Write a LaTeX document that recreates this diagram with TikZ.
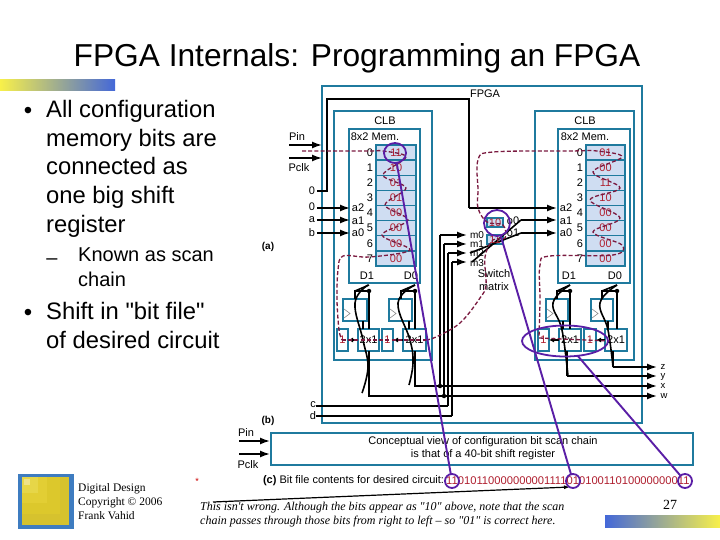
\documentclass[tikz,border=0pt]{standalone}
\usepackage{fontspec}
\usetikzlibrary{arrows.meta,shapes.geometric}
\setmainfont{Liberation Sans}
\newfontfamily\rawsans{Liberation Sans}
\newfontfamily\serifface{Liberation Serif}
\definecolor{teal1}{HTML}{1F7A9E}
\definecolor{cellfill}{HTML}{CFDDF2}
\definecolor{chainc}{HTML}{7A1A40}
\definecolor{purp}{HTML}{5A1EA6}
\definecolor{bitred}{HTML}{B02030}
\definecolor{barblue}{HTML}{4468D8}
\definecolor{baryel}{HTML}{F8F04A}
\definecolor{barmid}{HTML}{B4B48C}
\definecolor{logob}{HTML}{3E7CC0}
\definecolor{logoa}{HTML}{D6C22E}
\definecolor{logoc}{HTML}{DCC82C}
\definecolor{logod}{HTML}{E2CE34}
\definecolor{logoe}{HTML}{E6D648}
\definecolor{logof}{HTML}{EEE288}
\newcommand\fs[1]{\fontsize{#1}{#1}\selectfont}
\newcommand\bx[6][]{\node[boxs,#1,minimum width={#5-#3},minimum height={#6-#4}] (#2) at ({(#3+#5)/2},{(#4+#6)/2}) {};}
\tikzset{
 x=1pt,y=-1pt,
 boxs/.style={draw=teal1,line width=1.4pt,inner sep=0,outer sep=0,fill=white},
 cellb/.style={fill=cellfill},
 lab/.style={inner sep=0,outer sep=0,font=\fs{11}},
 reds/.style={lab,text=bitred},
 wire/.style={line width=1.6pt,black},
 arr/.style={wire,-{Latex[length=10pt,width=7pt]}},
 chain/.style={line width=1.3pt,chainc,dash pattern=on 4pt off 2.2pt},
 ring/.style={draw=purp,line width=1.8pt,inner sep=0,outer sep=0,ellipse},
 pline/.style={line width=1.9pt,purp},
 dot/.style={circle,fill=black,inner sep=0,minimum size=4.5pt},
}
\begin{document}
\begin{tikzpicture}
\useasboundingbox (0,0) rectangle (720,540);
\fill[white] (0,0) rectangle (720,540);
% decorative bars
\shade[left color=baryel,middle color=barmid,right color=barblue] (0,80) rectangle (115,91);
\shade[left color=barblue,middle color=barmid!40!baryel,right color=baryel] (605,515) rectangle (720,527);
% title and bullets
\node[inner sep=0,font=\fs{31.7}] (title) at (357,58) {FPGA Internals: Programming an FPGA};
\node[inner sep=0,font=\fs{24}] (b1) at (28,113) {•};
\node[inner sep=0,anchor=north west,align=left,font=\fontsize{23.8}{28.7}\selectfont] (t1) at (46,100) {All configuration\\memory bits are\\connected as\\one big shift\\register};
\node[inner sep=0,font=\fs{20}] (b2) at (52,262) {–};
\node[inner sep=0,anchor=north west,align=left,font=\fontsize{20}{24.5}\selectfont] (t2) at (78,248) {Known as scan\\chain};
\node[inner sep=0,font=\fs{24}] (b3) at (28,315) {•};
\node[inner sep=0,anchor=north west,align=left,font=\rawsans\fontsize{23.8}{29}\selectfont] (t3) at (46,302) {Shift in "bit file"\\of desired circuit};
% logo
\fill[logob] (18,474) rectangle (74,529);
\fill[logoa] (22,477) rectangle (69,525);
\fill[logoc] (22,477) rectangle (60,514);
\fill[logod] (22,477) rectangle (47,503);
\fill[logoe] (22,477) rectangle (38,493);
\fill[logof] (24,479) rectangle (30,485);
\node[inner sep=0,anchor=north west,align=left,font=\serifface\fontsize{11.5}{14}\selectfont] (cr) at (78,483) {Digital Design\\Copyright © 2006\\Frank Vahid};
% boxes
\bx{fpga}{322}{86}{642}{423}
\bx{clbL}{334}{111}{432}{360}
\bx{clbR}{535}{111}{634}{360}
\bx{memL}{349}{129}{420}{283}
\bx{memR}{558}{129}{630}{283}
\foreach \i/\a/\b in {0/11/01,1/10/00,2/01/11,3/01/10,4/00/00,5/00/00,6/00/00,7/00/00}{
  \pgfmathsetmacro\ya{145+\i*15.125}
  \pgfmathsetmacro\yb{145+(\i+1)*15.125}
  \bx[cellb]{cL\i}{376}{\ya}{416}{\yb}
  \bx[cellb]{cR\i}{586}{\ya}{625}{\yb}
  \node[lab] at ({370},{(\ya+\yb)/2}) {\i};
  \node[lab] at ({580},{(\ya+\yb)/2}) {\i};
  \node[reds] at (cL\i) {\a};
  \node[reds] at (cR\i) {\b};
}
\bx{ffA}{343}{299}{367}{321}
\bx{ffB}{389}{299}{412}{321}
\bx{ffC}{546}{299}{568}{321}
\bx{ffD}{591}{299}{613}{321}
\foreach \n in {ffA,ffB,ffC,ffD}{\draw[black!45,line width=.6pt] ([xshift=1pt,yshift=-10pt]\n.north west) -- ([xshift=7pt,yshift=-14.5pt]\n.north west) -- ([xshift=1pt,yshift=-19pt]\n.north west);}
\bx{inA}{337}{329}{348}{351}
\bx{muA}{358}{329}{379}{351}
\bx{inB}{382}{329}{393}{351}
\bx{muB}{403}{329}{426}{351}
\bx{inC}{538}{329}{549}{351}
\bx{muC}{559}{329}{581}{351}
\bx{inD}{584}{329}{596}{351}
\bx{muD}{605}{329}{627}{351}
\bx[cellb]{sw0}{487}{218}{503}{227}
\bx[cellb]{sw1}{487}{235}{503}{244}
\bx{conc}{271}{433}{693}{465}
% coordinates of free wire ends
\foreach \n/\x/\y in {pinA/289/145,pclkA/289/158,z0/317/191,z1/327/191,z2/327/99,z3/469/99,z4/469/208,
 e0/317/208,ea/317/220,eb/317/233,a2L/350/208,a1L/350/220,a0L/350/233,
 a2R/557/208,a1R/557/220,a0R/557/233,o0k/521/220,o1k/521/233,o0e/472/262,o1e/470/253,
 m0e/467/235,m1e/467/244,m2e/467/253,m3e/467/262,
 m0a/440/235,m1a/444/244,m2a/448/253,m3a/452/262,
 m0b/440/386,m1b/444/396,m2b/448/406,m3b/452/416,
 ce/316/406,de/316/416,
 xo/415/351,xk/415/386,xe/657/386,wo/369/351,wk/369/396,we/657/396,
 zo/613/351,zk/613/367,ze/657/367,yo/567/351,yk/567/376,ye/657/376,
 pinB/239/441,pclkB/239/454,pinBe/270/441,pclkBe/270/454,pinAe/322/145,pclkAe/322/158,
 uL/213/502,uR/570/487}{\coordinate (\n) at (\x,\y);}
% wires
\draw[arr] (pinA) -- (pinAe);
\draw[arr] (pclkA) -- (pclkAe);
\draw[wire] (z0) -- (z1) -- (z2) -- (z3) -- (z4);
\draw[arr] (z4) -- (a2R);
\draw[arr] (e0) -- (a2L);
\draw[arr] (ea) -- (a1L);
\draw[arr] (eb) -- (a0L);
\draw[arr] (m0a) -- (m0e);
\draw[arr] (m1a) -- (m1e);
\draw[arr] (m2a) -- (m2e);
\draw[arr] (m3a) -- (m3e);
\draw[wire] (m0a) -- (m0b);
\draw[wire] (m1a) -- (m1b);
\draw[wire] (m2a) -- (m2b);
\draw[wire] (m3a) -- (m3b);
\draw[wire] (ce) -- (m2b);
\draw[wire] (de) -- (m3b);
\draw[wire] (o0e) -- (o0k);
\draw[wire] (o1e) -- (o1k);
\draw[arr] (o0k) -- (a1R);
\draw[arr] (o1k) -- (a0R);
\draw[wire] (xo) -- (xk) -- (m0b);
\draw[arr] (xk) -- (xe);
\draw[wire] (wo) -- (wk) -- (m1b);
\draw[arr] (wk) -- (we);
\draw[wire] (zo) -- (zk);
\draw[arr] (zk) -- (ze);
\draw[wire] (yo) -- (yk);
\draw[arr] (yk) -- (ye);
\node[dot] (dx) at (m0b) {};
\node[dot] (dw) at (m1b) {};
\draw[arr] (pinB) -- (pinBe);
\draw[arr] (pclkB) -- (pclkBe);
% FF wiring
\foreach \xa/\xb/\xc in {355/369/363,401/415/409,557/570/563,602/617/608}{
  \draw[wire] (\xa,299) -- (\xa,291) -- (\xb,291);
  \draw[wire] (\xb,291) -- (\xb,329);
  \draw[wire] (\xa,291) -- (\xb,285);
  \node[dot] at (\xb,291) {};
  \draw[wire] (\xc,321) -- (\xc,329);
}
\draw[wire] plot[smooth,tension=.7] coordinates {(368,285) (355,303) (363,340) (368,367) (362,393)};
\draw[wire] plot[smooth,tension=.7] coordinates {(415,285) (398,303) (410,340) (413,363) (409,385)};
\draw[wire] plot[smooth,tension=.7] coordinates {(570,285) (553,303) (562,330) (568,376)};
\draw[wire] plot[smooth,tension=.7] coordinates {(617,285) (600,303) (608,330) (613,367)};
\foreach \xa/\xb in {348/358,393/403,549/559,596/605}{\draw[wire,-{Latex[length=5pt,width=5pt]}] (\xb,340) -- (\xa,340);}
% labels
\node[lab] (lF) at (485,94) {FPGA};
\node[lab] at (385,121) {CLB};
\node[lab] at (585,121) {CLB};
\node[lab] at (375,137) {8x2 Mem.};
\node[lab] at (585,137) {8x2 Mem.};
\node[lab] at (297,137) {Pin};
\node[lab] at (299,168) {Pclk};
\foreach \t/\y in {0/191,0/207,a/220,b/233}{\node[lab] at (312,\y) {\t};}
\node[lab] at (358,208) {a2};\node[lab] at (358,221) {a1};\node[lab] at (358,233) {a0};
\node[lab] at (566,208) {a2};\node[lab] at (566,221) {a1};\node[lab] at (566,233) {a0};
\node[lab] at (367,276) {D1};\node[lab] at (411,276) {D0};
\node[lab] at (569,276) {D1};\node[lab] at (615,276) {D0};
\node[lab,font=\fs{10}] at (268,247) {\textbf{(a)}};
\node[lab,font=\fs{10}] at (268,421) {\textbf{(b)}};
\node[lab] at (246,433) {Pin};
\node[lab] at (248,465) {Pclk};
\node[lab] at (313,405) {c};\node[lab] at (313,416) {d};
\node[lab,font=\fs{9.5}] at (663,367) {z};\node[lab,font=\fs{9.5}] at (663,376.5) {y};\node[lab,font=\fs{9.5}] at (663,386) {x};\node[lab,font=\fs{9.5}] at (664,396) {w};
\node[lab,font=\fs{10}] at (477,235) {m0};\node[lab,font=\fs{10}] at (477,244) {m1};\node[lab,font=\fs{10}] at (477,253) {m2};\node[lab,font=\fs{10}] at (477,263) {m3};
\node[lab] at (513,221) {o0};\node[lab] at (513,233) {o1};
\node[lab] at (494,274) {Switch};\node[lab] at (494,287) {matrix};
\node[reds] at (sw0) {10};\node[reds] at (sw1) {11};
\foreach \n in {muA,muB,muC,muD}{\node[lab] at (\n) {2x1};}
\foreach \n in {inA,inB,inC,inD}{\node[reds] at (\n) {1};}
\node[lab,align=center,font=\fontsize{11}{13}\selectfont] (ct) at (483,448) {Conceptual view of configuration bit scan chain\\is that of a 40-bit shift register};
\node[lab,anchor=west] (ctxt) at (263,481) {\textbf{(c)} Bit file contents for desired circuit:};
\node[inner sep=0,anchor=west,font=\fs{11.2},text=bitred] (bits) at (446,481) {1101011000000000111101010011010000000011};
\node[inner sep=0,font=\fs{9},text=red!80!black] (star) at (197,481) {*};
\node[inner sep=0,anchor=north west,align=left,font=\serifface\itshape\fontsize{12}{13.5}\selectfont] (note) at (200,502) {This isn't wrong. Although the bits appear as "10" above, note that the scan\\chain passes through those bits from right to left – so "01" is correct here.};
\node[inner sep=0,font=\serifface\fs{14}] (pg) at (670,505) {27};
\draw[line width=1.2pt,-{Latex[length=6pt,width=4pt]}] (uL) -- (uR);
% scan chain
\draw[chain] plot[smooth,tension=.55] coordinates {(302,151) (368,151) (383,151) (406,157) (383,175) (406,188) (385,205) (408,220) (382,235) (410,250) (370,257) (343,256) (338,270) (337,300) (339,330) (342,340)};
\draw[chain] (342,340) -- (426,340);
\draw[chain] plot[smooth,tension=.6] coordinates {(426,340) (436,337) (460,323) (480,298) (486,285) (485,257) (493,240) (505,238) (503,225) (487,222) (478,208) (478,190) (478,160) (493,152) (570,151) (597,151) (622,157) (593,172) (620,188) (590,200) (620,218) (593,232) (622,245) (613,255) (550,256) (540,265) (540,300) (539,337)};
\draw[chain] (539,338) -- (610,341);
% purple rings and leaders
\node[ring,minimum width=22pt,minimum height=20pt] (r1) at (395,153) {};
\node[ring,minimum width=26pt,minimum height=26pt] (r2) at (497,223) {};
\node[ring,minimum width=86pt,minimum height=31pt] (r3) at (565,341) {};
\node[ring,minimum width=14pt,minimum height=14pt] (b1r) at (452,481) {};
\node[ring,minimum width=14pt,minimum height=14pt] (b2r) at (573,481) {};
\node[ring,minimum width=14pt,minimum height=14pt] (b3r) at (685,481) {};
\draw[pline] (r1) -- (b1r);
\draw[pline] (r2) -- (b2r);
\draw[pline] (r3) -- (b3r);
\end{tikzpicture}
\end{document}
